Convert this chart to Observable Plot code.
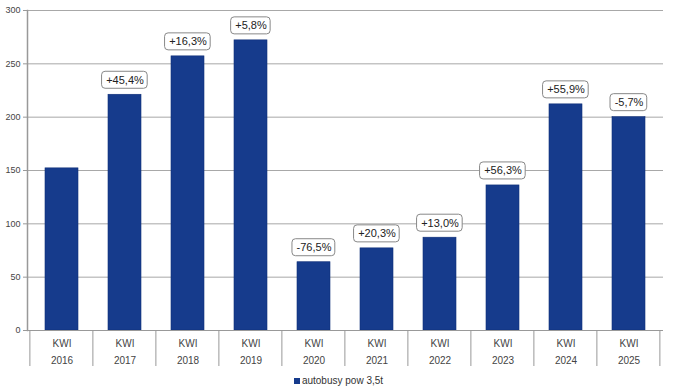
<!DOCTYPE html>
<html>
<head>
<meta charset="utf-8">
<script src="https://cdn.jsdelivr.net/npm/d3@7"></script>
<script src="https://cdn.jsdelivr.net/npm/@observablehq/plot@0.6"></script>
<style>
  html, body { margin: 0; padding: 0; background: #fff; }
  #chart svg { display: block; }
  .legend { font: 10px "Liberation Sans", Arial, sans-serif; color: #333; text-align: center; height: 22px; line-height: 22px; padding-left: 2px; }
  .legend .sw { display: inline-block; width: 6px; height: 6px; background: #163b8c; margin-right: 2px; vertical-align: 0px; }
</style>
</head>
<body>
<div id="chart"></div>
<script>
const years = ["2016","2017","2018","2019","2020","2021","2022","2023","2024","2025"];
const values = [152, 221, 257, 272, 64, 77, 87, 136, 212, 200];
const changes = [null, "+45,4%", "+16,3%", "+5,8%", "-76,5%", "+20,3%", "+13,0%", "+56,3%", "+55,9%", "-5,7%"];
const yTicks = [0, 50, 100, 150, 200, 250, 300];
const seriesName = "autobusy pow 3,5t";
const categoryLabel = "KWI";

const data = years.map((y, i) => ({year: y, value: values[i], change: changes[i]}));
const labelled = data.filter(d => d.change);

const W = 675, H = 370, mL = 27, mR = 12, mT = 10, mB = 40;
const padInner = 0.48;
const font = '"Liberation Sans", Arial, sans-serif';

const canvas = document.createElement("canvas");
const ctx = canvas.getContext("2d");
ctx.font = `11px ${font}`;

function separators(index, scales, vals, dims) {
  const x = scales.x;
  const step = x(years[1]) - x(years[0]);
  const bw = step * (1 - padInner);
  const yb = dims.height - dims.marginBottom;
  const g = d3.create("svg:g");
  const edges = years.map(d => x(d) + bw / 2 - step / 2);
  edges.push(x(years[years.length - 1]) + bw / 2 + step / 2);
  for (const e of edges) {
    g.append("line").attr("x1", e).attr("x2", e).attr("y1", yb).attr("y2", yb + 36)
      .attr("stroke", "#999").attr("stroke-width", 1);
  }
  return g.node();
}

function boxes(index, scales, vals, dims) {
  const x = scales.x, y = scales.y;
  const step = x(years[1]) - x(years[0]);
  const bw = step * (1 - padInner);
  const g = d3.create("svg:g");
  for (const d of labelled) {
    const w = ctx.measureText(d.change).width + 8;
    const h = 17;
    const cx = x(d.year) + bw / 2;
    const cy = y(d.value) - 14.5;
    g.append("rect").attr("x", cx - w / 2).attr("y", cy - h / 2).attr("width", w).attr("height", h)
      .attr("rx", 3.5).attr("fill", "#fff").attr("stroke", "#888").attr("stroke-width", 1);
  }
  return g.node();
}

const chart = Plot.plot({
  width: W, height: H,
  marginLeft: mL, marginRight: mR, marginTop: mT, marginBottom: mB,
  style: {fontFamily: font, background: "#fff"},
  x: {type: "band", domain: years, paddingInner: padInner, paddingOuter: padInner / 2},
  y: {domain: [0, 300]},
  marks: [
    Plot.ruleY(yTicks.filter(t => t > 0), {stroke: "#a8a8a8", strokeWidth: 1}),
    Plot.barY(data, {x: "year", y: "value", fill: "#163b8c", stroke: "#0f2f78", strokeWidth: 0.6}),
    Plot.ruleY([0], {stroke: "#999", strokeWidth: 1}),
    Plot.frame({anchor: "left", stroke: "#999", strokeWidth: 1.5}),
    Plot.axisY({ticks: yTicks, tickSize: 4, tickPadding: 3, fontSize: 9, color: "#444", stroke: "#999", tickFormat: d => String(d), label: null}),
    Plot.axisX({tickSize: 0, tickPadding: 9, fontSize: 10, color: "#444", tickFormat: () => categoryLabel, label: null}),
    Plot.axisX({tickSize: 0, tickPadding: 26, fontSize: 10, color: "#444", tickFormat: d => d, label: null}),
    separators,
    boxes,
    Plot.text(labelled, {x: "year", y: "value", text: "change", dy: -14.5, fontSize: 11, fill: "#222", fontFamily: font})
  ]
});

const root = document.getElementById("chart");
root.appendChild(chart);
const leg = document.createElement("div");
leg.className = "legend";
leg.innerHTML = `<span class="sw"></span>${seriesName}`;
root.appendChild(leg);
</script>
</body>
</html>
